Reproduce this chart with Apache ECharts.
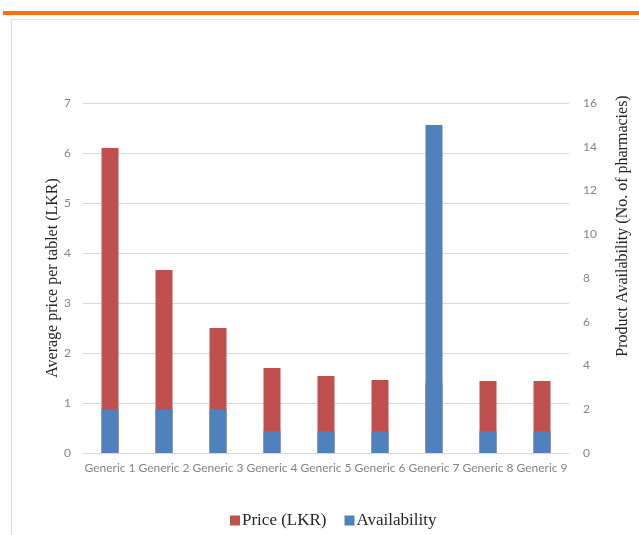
<!DOCTYPE html>
<html>
<head>
<meta charset="utf-8">
<script src="https://cdn.jsdelivr.net/npm/echarts@6/dist/echarts.min.js"></script>
<style>
  html, body { margin: 0; padding: 0; background: #fff; }
  #chart { width: 639px; height: 535px; }
</style>
</head>
<body>
<div id="chart"></div>
<script>
// categories and values
var generics = ['Generic 1', 'Generic 2', 'Generic 3', 'Generic 4', 'Generic 5', 'Generic 6', 'Generic 7', 'Generic 8', 'Generic 9'];
var priceLKR = [6.1, 3.66, 2.5, 1.7, 1.54, 1.46, 1.4, 1.44, 1.44];
var availability = [2, 2, 2, 1, 1, 1, 15, 1, 1];
var priceTicks = [0, 7, 1];   // min, max, step
var availTicks = [0, 16, 2];

var chart = echarts.init(document.getElementById('chart'));

var tickFont = { color: '#868686', fontFamily: 'Lato', fontSize: 12 };
var serif = 'Liberation Serif';

var option = {
  animation: false,
  backgroundColor: '#fff',
  graphic: [
    { type: 'rect', shape: { x: 3, y: 11, width: 636, height: 4 }, style: { fill: '#ff6f12' } },
    { type: 'line', shape: { x1: 11.5, y1: 19, x2: 11.5, y2: 535 }, style: { stroke: '#dcdcdc', lineWidth: 1 } },
    { type: 'line', shape: { x1: 11, y1: 19.5, x2: 639, y2: 19.5 }, style: { stroke: '#e6e6e6', lineWidth: 1 } }
  ],
  grid: { left: 83, right: 69, top: 103, bottom: 82, containLabel: false },
  legend: {
    top: 507,
    left: 225,
    itemWidth: 10,
    itemHeight: 10,
    itemGap: 18,
    icon: 'rect',
    textStyle: { fontFamily: serif, fontSize: 17, color: '#262626', padding: [0, 0, 0, -3] },
    data: ['Price (LKR)', 'Availability']
  },
  xAxis: {
    type: 'category',
    data: generics,
    axisTick: { show: false },
    axisLine: { lineStyle: { color: '#d9d9d9', width: 1 } },
    axisLabel: Object.assign({ margin: 9, interval: 0 }, tickFont)
  },
  yAxis: [
    {
      type: 'value',
      min: priceTicks[0], max: priceTicks[1], interval: priceTicks[2],
      name: 'Average price per tablet (LKR)',
      nameLocation: 'middle',
      nameGap: 22,
      nameMoveOverlap: false,
      nameTextStyle: { fontFamily: serif, fontSize: 16, color: '#262626' },
      axisLabel: Object.assign({ margin: 12 }, tickFont),
      axisLine: { show: false },
      axisTick: { show: false },
      splitLine: { lineStyle: { color: '#d9d9d9', width: 1 } }
    },
    {
      type: 'value',
      min: availTicks[0], max: availTicks[1], interval: availTicks[2],
      name: 'Product Availability (No. of pharmacies)',
      nameLocation: 'middle',
      nameGap: 46,
      nameTextStyle: { fontFamily: serif, fontSize: 16, color: '#262626', padding: [0, 0, 0, 104] },
      axisLabel: Object.assign({ margin: 14 }, tickFont),
      axisLine: { show: false },
      axisTick: { show: false },
      splitLine: { show: false }
    }
  ],
  series: [
    {
      name: 'Price (LKR)',
      type: 'bar',
      yAxisIndex: 0,
      barWidth: 17,
      itemStyle: { color: '#c0504d' },
      data: priceLKR
    },
    {
      name: 'Availability',
      type: 'bar',
      yAxisIndex: 1,
      barWidth: 17,
      barGap: '-100%',
      itemStyle: { color: '#4f81bd' },
      data: availability
    }
  ]
};

chart.setOption(option);
</script>
</body>
</html>
